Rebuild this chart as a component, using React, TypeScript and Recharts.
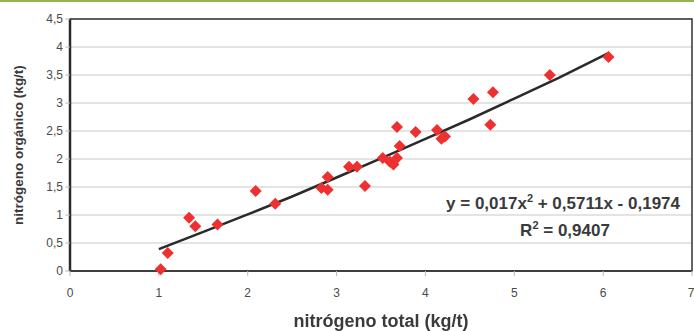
import {
  ComposedChart,
  CartesianGrid,
  ReferenceArea,
  Scatter,
  XAxis,
  YAxis,
} from "recharts";

// nitrógeno total (kg/t) vs nitrógeno orgánico (kg/t)
const totalN = [
  1.02, 1.1, 1.34, 1.41, 1.66, 2.09, 2.31, 2.83, 2.9, 2.9, 3.14, 3.23, 3.32,
  3.52, 3.6, 3.64, 3.68, 3.71, 3.68, 3.89, 4.13, 4.18, 4.22, 4.54, 4.73, 4.76,
  5.4, 6.06,
];
const organicN = [
  0.03, 0.32, 0.95, 0.8, 0.83, 1.43, 1.2, 1.48, 1.45, 1.68, 1.86, 1.86, 1.52,
  2.02, 1.95, 1.9, 2.02, 2.23, 2.57, 2.48, 2.52, 2.36, 2.4, 3.07, 2.61, 3.19,
  3.5, 3.82,
];

// polynomial trendline
const trendX = [1.0, 1.5, 2.0, 2.5, 3.0, 3.5, 4.0, 4.5, 5.0, 5.5, 6.07];
const trendY = [0.39, 0.7, 1.01, 1.33, 1.67, 2.01, 2.36, 2.71, 3.08, 3.45, 3.9];

const xTicks = [0, 1, 2, 3, 4, 5, 6, 7];
const yTicks = [0, 0.5, 1, 1.5, 2, 2.5, 3, 3.5, 4, 4.5];

const points = totalN.map((x, i) => ({ x, y: organicN[i] }));
const trend = trendX.map((x, i) => ({ x, y: trendY[i] }));

const fmt = (v: number) => String(v).replace(".", ",");
const tickFont = {
  fill: "#4a4a4a",
  fontSize: 12,
  fontFamily: "'Liberation Sans Narrow', 'Liberation Sans', Arial, sans-serif",
};

function Diamond(props: any) {
  const { cx, cy } = props;
  if (cx == null || cy == null) return null;
  const r = 6;
  return (
    <path
      d={`M${cx},${cy - r}L${cx + r},${cy}L${cx},${cy + r}L${cx - r},${cy}Z`}
      fill="#ee3030"
    />
  );
}

export default function App() {
  return (
    <div
      style={{
        position: "fixed",
        left: 0,
        top: 0,
        width: 694,
        height: 331,
        background: "#fff",
        fontFamily: "'Liberation Sans', Arial, sans-serif",
      }}
    >
      <div style={{ position: "absolute", left: 0, top: 0, width: 694, height: 2, background: "#93b554" }} />
      <ComposedChart
        width={694}
        height={331}
        margin={{ top: 19, right: 2, bottom: 30, left: 0 }}
      >
        <CartesianGrid vertical={false} stroke="#c9c9c9" strokeWidth={1.2} />
        <XAxis
          type="number"
          dataKey="x"
          domain={[0, 7]}
          ticks={xTicks}
          tick={tickFont}
          tickFormatter={fmt}
          tickSize={5}
          tickMargin={12}
          height={30}
          axisLine={{ stroke: "#333", strokeWidth: 1.5 }}
          tickLine={{ stroke: "#bbb" }}
          allowDataOverflow
        />
        <YAxis
          type="number"
          dataKey="y"
          domain={[0, 4.5]}
          ticks={yTicks}
          tick={tickFont}
          tickFormatter={fmt}
          width={70}
          tickSize={5}
          tickMargin={2}
          axisLine={{ stroke: "#2a2a2a", strokeWidth: 2.5 }}
          tickLine={{ stroke: "#bbb" }}
          label={{
            value: "nitrógeno orgánico (kg/t)",
            angle: -90,
            position: "insideLeft",
            offset: 18,
            style: {
              textAnchor: "middle",
              fontSize: 13.5,
              fontWeight: "bold",
              fill: "#3a3a3a",
              fontFamily: "'Liberation Sans', Arial, sans-serif",
            },
          }}
        />
        <ReferenceArea
          x1={0}
          x2={7}
          y1={0}
          y2={4.5}
          fill="none"
          stroke="#333"
          strokeWidth={1.5}
          ifOverflow="visible"
        />
        <Scatter
          data={trend}
          line={{ stroke: "#2a2a2a", strokeWidth: 2.5 }}
          lineType="joint"
          shape={() => null}
          isAnimationActive={false}
        />
        <Scatter data={points} shape={<Diamond />} isAnimationActive={false} />
      </ComposedChart>
      <div
        style={{
          position: "absolute",
          left: 0,
          width: 762,
          top: 311,
          textAlign: "center",
          fontSize: 18,
          lineHeight: "20px",
          fontWeight: "bold",
          color: "#3a3a3a",
        }}
      >
        nitrógeno total (kg/t)
      </div>
      <div
        style={{
          position: "absolute",
          right: 14,
          top: 194,
          fontSize: 17,
          lineHeight: "20px",
          fontWeight: "bold",
          color: "#3a3a3a",
          whiteSpace: "nowrap",
        }}
      >
        y = 0,017x<sup style={{ fontSize: 11, lineHeight: 0 }}>2</sup> + 0,5711x - 0,1974
      </div>
      <div
        style={{
          position: "absolute",
          left: 515,
          width: 100,
          top: 221,
          textAlign: "center",
          fontSize: 17,
          lineHeight: "20px",
          fontWeight: "bold",
          color: "#3a3a3a",
          whiteSpace: "nowrap",
        }}
      >
        R<sup style={{ fontSize: 11, lineHeight: 0 }}>2</sup> = 0,9407
      </div>
    </div>
  );
}
